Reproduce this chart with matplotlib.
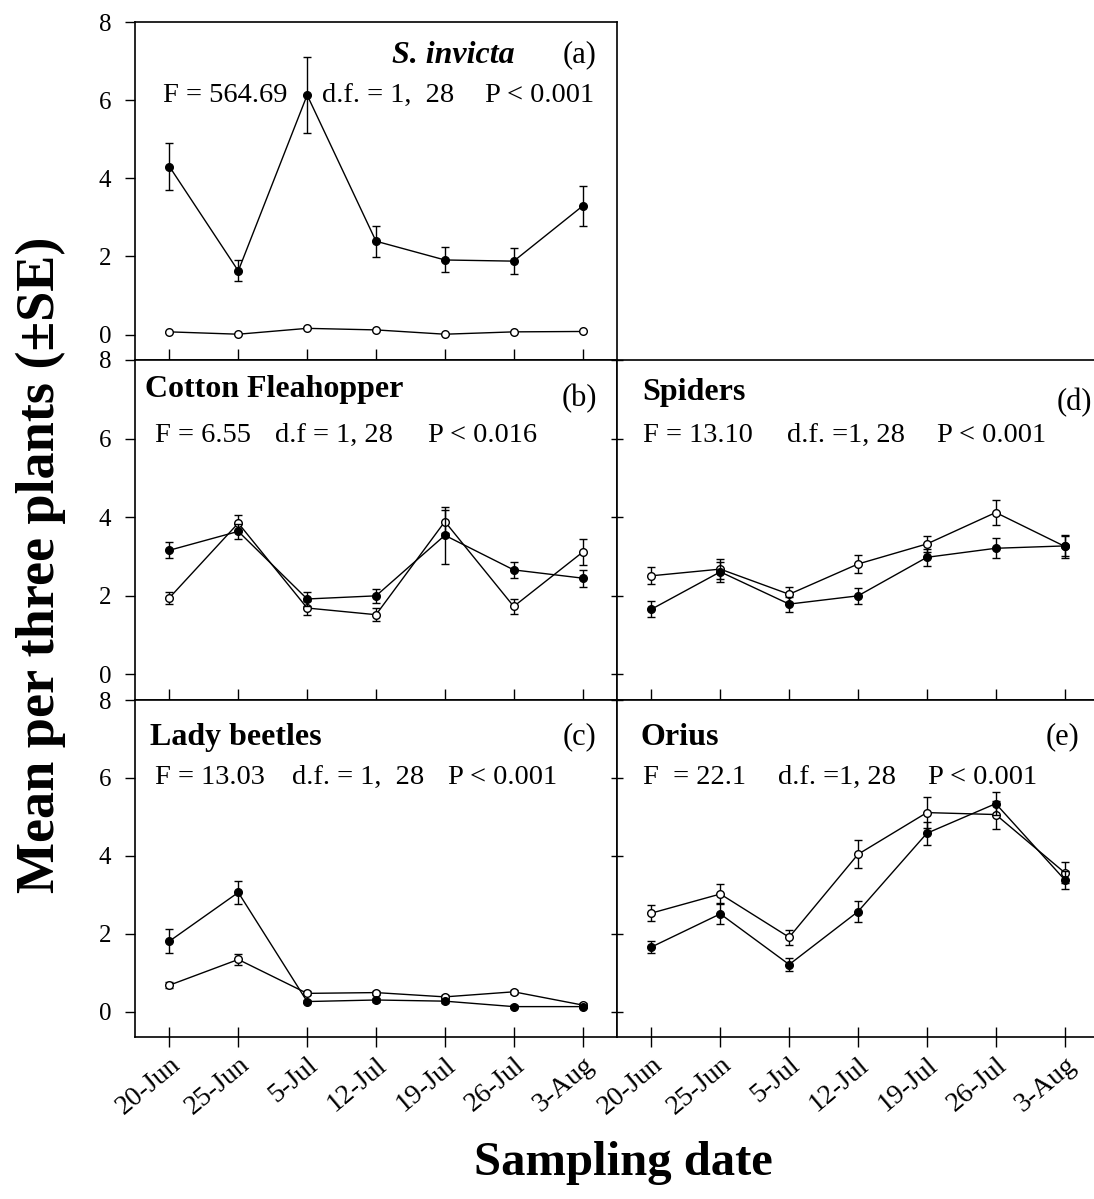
import matplotlib
matplotlib.use("Agg")
import matplotlib.pyplot as plt

dates = ["20-Jun", "25-Jun", "5-Jul", "12-Jul", "19-Jul", "26-Jul", "3-Aug"]

# (a) S. invicta
invicta_filled = [4.3, 1.63, 6.13, 2.39, 1.91, 1.88, 3.29]
invicta_filled_se = [0.6, 0.27, 0.98, 0.4, 0.32, 0.33, 0.52]
invicta_open = [0.07, 0.01, 0.16, 0.12, 0.01, 0.07, 0.08]
invicta_open_se = [0.0, 0.0, 0.0, 0.0, 0.0, 0.0, 0.0]

# (b) Cotton fleahopper
flea_filled = [3.16, 3.64, 1.92, 2.0, 3.54, 2.66, 2.45]
flea_filled_se = [0.2, 0.19, 0.19, 0.18, 0.73, 0.2, 0.22]
flea_open = [1.95, 3.85, 1.69, 1.52, 3.89, 1.73, 3.11]
flea_open_se = [0.15, 0.21, 0.18, 0.17, 0.3, 0.18, 0.33]

# (c) Lady beetles
lady_filled = [1.81, 3.06, 0.26, 0.3, 0.27, 0.13, 0.13]
lady_filled_se = [0.31, 0.29, 0.05, 0.05, 0.05, 0.03, 0.03]
lady_open = [0.68, 1.34, 0.47, 0.49, 0.38, 0.51, 0.17]
lady_open_se = [0.07, 0.15, 0.05, 0.05, 0.05, 0.05, 0.04]

# (d) Spiders
spider_filled = [1.66, 2.61, 1.79, 2.0, 2.98, 3.21, 3.27]
spider_filled_se = [0.2, 0.25, 0.19, 0.21, 0.21, 0.25, 0.26]
spider_open = [2.51, 2.68, 2.04, 2.81, 3.32, 4.12, 3.26]
spider_open_se = [0.22, 0.25, 0.19, 0.22, 0.2, 0.33, 0.29]

# (e) Orius
orius_filled = [1.66, 2.51, 1.21, 2.57, 4.58, 5.34, 3.39]
orius_filled_se = [0.15, 0.27, 0.17, 0.26, 0.29, 0.3, 0.23]
orius_open = [2.53, 3.02, 1.91, 4.04, 5.11, 5.06, 3.57]
orius_open_se = [0.2, 0.25, 0.19, 0.36, 0.4, 0.36, 0.26]

titles = ["S. invicta", "Cotton Fleahopper", "Lady beetles", "Spiders", "Orius"]
letters = ["(a)", "(b)", "(c)", "(d)", "(e)"]
stats = [
    ["F = 564.69", "d.f. = 1,  28", "P < 0.001"],
    ["F = 6.55", "d.f = 1, 28", "P < 0.016"],
    ["F = 13.03", "d.f. = 1,  28", "P < 0.001"],
    ["F = 13.10", "d.f. =1, 28", "P < 0.001"],
    ["F  = 22.1", "d.f. =1, 28", "P < 0.001"],
]

plt.rcParams["font.family"] = ["Liberation Serif", "DejaVu Serif"]

fig = plt.figure(figsize=(10.94, 11.99), dpi=100)

# axes rectangles in figure fraction
left_x, right_x, width = 0.1234, 0.564, 0.4406
rows = [(0.69975, 0.28190), (0.41618, 0.28357), (0.13511, 0.28107)]

panels = [
    (left_x, rows[0], invicta_filled, invicta_filled_se, invicta_open, invicta_open_se),
    (left_x, rows[1], flea_filled, flea_filled_se, flea_open, flea_open_se),
    (left_x, rows[2], lady_filled, lady_filled_se, lady_open, lady_open_se),
    (right_x, rows[1], spider_filled, spider_filled_se, spider_open, spider_open_se),
    (right_x, rows[2], orius_filled, orius_filled_se, orius_open, orius_open_se),
]

# text layout per panel: title (x, y, ha), letter (x, y), stats y, stats x list
text_layout = [
    ((0.788, 0.902, "right"), (0.958, 0.902), 0.784, [0.058, 0.388, 0.726]),
    ((0.021, 0.912, "left"), (0.958, 0.888), 0.779, [0.041, 0.290, 0.608]),
    ((0.031, 0.890, "left"), (0.958, 0.890), 0.771, [0.041, 0.326, 0.649]),
    ((0.052, 0.903, "left"), (0.985, 0.876), 0.779, [0.054, 0.353, 0.664]),
    ((0.048, 0.890, "left"), (0.959, 0.890), 0.771, [0.054, 0.334, 0.645]),
]

x = list(range(len(dates)))

for i, (px, (py, h), yf, yf_se, yo, yo_se) in enumerate(panels):
    ax = fig.add_axes([px, py, width, h])
    ax.errorbar(x, yo, yerr=yo_se, color="black", lw=1, marker="o", ms=5.5,
                mfc="white", mec="black", mew=1, capsize=3, elinewidth=1, zorder=2)
    ax.errorbar(x, yf, yerr=yf_se, color="black", lw=1, marker="o", ms=5.5,
                mfc="black", mec="black", capsize=3, elinewidth=1, zorder=3)
    ax.set_xlim(-0.5, 6.5)
    ax.set_ylim(-0.65, 8)
    ax.set_yticks([0, 2, 4, 6, 8])
    ax.set_xticks(x)
    for s in ax.spines.values():
        s.set_linewidth(1.2)

    is_left = px == left_x
    is_bottom = i in (2, 4)
    if is_left:
        ax.tick_params(axis="y", direction="out", length=7, width=1, pad=10,
                       labelsize=18)
    else:
        ax.tick_params(axis="y", direction="inout", length=9, width=1,
                       labelleft=False)
    if is_bottom:
        ax.tick_params(axis="x", direction="inout", length=14, width=1,
                       labelsize=20, pad=4)
        ax.set_xticklabels(dates, rotation=40, ha="right",
                           rotation_mode="anchor")
    else:
        ax.tick_params(axis="x", direction="in", length=8, width=1,
                       labelbottom=False)

    (tx, ty, tha), (lx, ly), sy, sx = text_layout[i]
    ax.text(tx, ty, titles[i], transform=ax.transAxes, ha=tha, va="center",
            fontsize=23, fontweight="bold", style="italic" if i == 0 else "normal")
    ax.text(lx, ly, letters[i], transform=ax.transAxes, ha="right", va="center",
            fontsize=22)
    for piece, xx in zip(stats[i], sx):
        ax.text(xx, sy, piece, transform=ax.transAxes, ha="left", va="center",
                fontsize=20.5)

fig.text(0.037, 0.529, "Mean per three plants (\u00b1SE)", rotation=90,
         ha="center", va="center", fontsize=39, fontweight="bold")
fig.text(0.57, 0.030, "Sampling date", ha="center", va="center",
         fontsize=35, fontweight="bold")

fig.savefig("out.png", dpi=100)
